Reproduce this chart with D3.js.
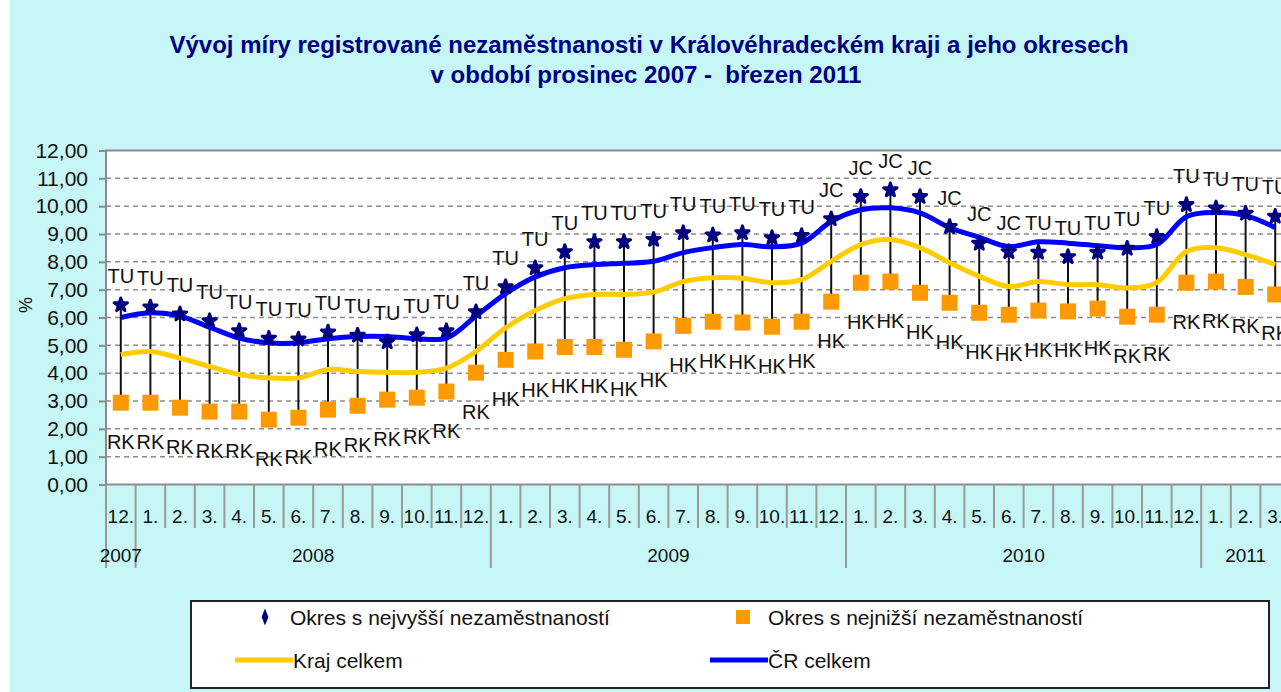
<!DOCTYPE html>
<html>
<head>
<meta charset="utf-8">
<script src="https://cdn.jsdelivr.net/npm/d3@7"></script>
<style>
  html, body { margin: 0; padding: 0; background: #fff; overflow: hidden; }
  text { font-family: 'Liberation Sans', Arial, sans-serif; }
</style>
</head>
<body>
<div id="chart"></div>
<script>
const monthLabels = ['12.',
  '1.', '2.', '3.', '4.', '5.', '6.', '7.', '8.', '9.', '10.', '11.', '12.',
  '1.', '2.', '3.', '4.', '5.', '6.', '7.', '8.', '9.', '10.', '11.', '12.',
  '1.', '2.', '3.', '4.', '5.', '6.', '7.', '8.', '9.', '10.', '11.', '12.',
  '1.', '2.', '3.']
const years = ['2007', '2008', '2009', '2010', '2011']
const monthsPerYear = [1, 12, 12, 12, 3]

// okres s nejvyssi nezamestnanosti
const highValues = [6.45,
  6.37, 6.12, 5.88, 5.52, 5.25, 5.22, 5.47, 5.36, 5.12, 5.37, 5.52, 6.2,
  7.1, 7.78, 8.36, 8.72, 8.72, 8.8, 9.04, 8.96, 9.04, 8.86, 8.94, 9.54,
  10.34, 10.58, 10.34, 9.26, 8.66, 8.36, 8.34, 8.18, 8.34, 8.48, 8.9, 10.05,
  9.93, 9.74, 9.63]
const highNames = ['TU',
  'TU', 'TU', 'TU', 'TU', 'TU', 'TU', 'TU', 'TU', 'TU', 'TU', 'TU', 'TU',
  'TU', 'TU', 'TU', 'TU', 'TU', 'TU', 'TU', 'TU', 'TU', 'TU', 'TU', 'JC',
  'JC', 'JC', 'JC', 'JC', 'JC', 'JC', 'TU', 'TU', 'TU', 'TU', 'TU', 'TU',
  'TU', 'TU', 'TU']

// okres s nejnizsi nezamestnanosti
const lowValues = [2.94,
  2.94, 2.76, 2.62, 2.62, 2.33, 2.4, 2.69, 2.83, 3.05, 3.12, 3.34, 4.02,
  4.48, 4.78, 4.94, 4.94, 4.84, 5.14, 5.7, 5.85, 5.82, 5.67, 5.85, 6.57,
  7.25, 7.29, 6.89, 6.53, 6.17, 6.1, 6.25, 6.22, 6.32, 6.03, 6.1, 7.25,
  7.29, 7.1, 6.83]
const lowNames = ['RK',
  'RK', 'RK', 'RK', 'RK', 'RK', 'RK', 'RK', 'RK', 'RK', 'RK', 'RK', 'RK',
  'HK', 'HK', 'HK', 'HK', 'HK', 'HK', 'HK', 'HK', 'HK', 'HK', 'HK', 'HK',
  'HK', 'HK', 'HK', 'HK', 'HK', 'HK', 'HK', 'HK', 'HK', 'RK', 'RK', 'RK',
  'RK', 'RK', 'RK']

// Kraj celkem
const regionValues = [4.67,
  4.78, 4.54, 4.24, 3.95, 3.83, 3.83, 4.13, 4.06, 4.03, 4.03, 4.18, 4.78,
  5.63, 6.25, 6.68, 6.83, 6.83, 6.91, 7.29, 7.43, 7.41, 7.25, 7.36, 8.02,
  8.62, 8.8, 8.51, 7.97, 7.48, 7.11, 7.29, 7.18, 7.18, 7.06, 7.26, 8.37,
  8.51, 8.26, 7.9]

// CR celkem
const czValues = [6.0,
  6.17, 6.05, 5.65, 5.26, 5.09, 5.09, 5.24, 5.32, 5.32, 5.24, 5.26, 6.05,
  6.86, 7.46, 7.79, 7.9, 7.95, 8.02, 8.33, 8.51, 8.62, 8.54, 8.67, 9.45,
  9.87, 9.94, 9.76, 9.23, 8.88, 8.55, 8.72, 8.67, 8.58, 8.51, 8.62, 9.62,
  9.77, 9.66, 9.23]

const yTicks = d3.range(0, 13)

const W = 1281
const H = 692
const plot = { left: 106, top: 150.5, bottom: 484.5, step: 29.6 }
const n = monthLabels.length

const svg = d3
  .select('#chart')
  .append('svg')
  .attr('width', W)
  .attr('height', H)

svg.append('rect')
  .attr('x', 10).attr('y', 0)
  .attr('width', W - 10).attr('height', H)
  .attr('fill', '#c6f6f6')

const xPositionScale = d3.scaleBand()
  .domain(d3.range(n))
  .range([plot.left, plot.left + n * plot.step])
const yPositionScale = d3.scaleLinear().domain([0, 12]).range([plot.bottom, plot.top])
const cx = i => xPositionScale(i) + xPositionScale.bandwidth() / 2

// title
const title = svg.append('g')
  .attr('fill', '#000080')
  .attr('font-weight', 'bold')
  .attr('font-size', 24)
  .attr('text-anchor', 'middle')
title.append('text').attr('x', 649).attr('y', 53)
  .text('Vývoj míry registrované nezaměstnanosti v Královéhradeckém kraji a jeho okresech')
title.append('text').attr('x', 646).attr('y', 83)
  .text('v období prosinec 2007 -  březen 2011')
  .attr('xml:space', 'preserve')

// plot area
svg.append('rect')
  .attr('x', plot.left)
  .attr('y', plot.top)
  .attr('width', n * plot.step)
  .attr('height', plot.bottom - plot.top)
  .attr('fill', '#fff')
  .attr('stroke', '#8c8c8c')
  .attr('stroke-width', 2)

svg.append('g')
  .selectAll('line')
  .data(yTicks.filter(d => d > 0 && d < 12))
  .enter()
  .append('line')
  .attr('x1', plot.left)
  .attr('x2', W)
  .attr('y1', d => yPositionScale(d))
  .attr('y2', d => yPositionScale(d))
  .attr('stroke', '#8c8c8c')
  .attr('stroke-width', 1.5)
  .attr('stroke-dasharray', '5,4')

// y axis
const yAxis = d3.axisLeft(yPositionScale)
  .tickValues(yTicks)
  .tickSize(7)
  .tickPadding(11)
  .tickFormat(d => d3.format('.2f')(d).replace('.', ','))
const yg = svg.append('g')
  .attr('class', 'axis y-axis')
  .attr('transform', `translate(${plot.left},0)`)
  .call(yAxis)
yg.select('.domain').remove()
yg.selectAll('line').attr('stroke', '#8c8c8c').attr('stroke-width', 2)
yg.selectAll('text').attr('font-size', 21).attr('fill', '#111')
  .attr('font-family', "'Liberation Sans', Arial, sans-serif")

svg.append('text')
  .attr('transform', 'translate(32,305) rotate(-90)')
  .attr('text-anchor', 'middle')
  .attr('font-size', 18)
  .attr('fill', '#111')
  .text('%')

// x axis: month labels
const xAxis = d3.axisBottom(xPositionScale)
  .tickSize(0)
  .tickPadding(25)
  .tickFormat(i => monthLabels[i])
const xg = svg.append('g')
  .attr('class', 'axis x-axis')
  .attr('transform', `translate(0,${plot.bottom})`)
  .call(xAxis)
xg.select('.domain').remove()
xg.selectAll('text').attr('font-size', 19).attr('fill', '#111')
  .attr('font-family', "'Liberation Sans', Arial, sans-serif")

const yearStarts = monthsPerYear.map((m, k) => d3.sum(monthsPerYear.slice(0, k)))
const boundaries = d3.range(n + 1)
svg.append('g')
  .selectAll('line')
  .data(boundaries)
  .enter()
  .append('line')
  .attr('x1', i => plot.left + i * plot.step)
  .attr('x2', i => plot.left + i * plot.step)
  .attr('y1', plot.bottom)
  .attr('y2', i => (yearStarts.includes(i) ? 568 : 528))
  .attr('stroke', '#999')
  .attr('stroke-width', 2)

svg.append('g')
  .selectAll('text')
  .data(years)
  .enter()
  .append('text')
  .attr('x', (d, k) => plot.left + (yearStarts[k] + monthsPerYear[k] / 2) * plot.step)
  .attr('y', 562)
  .attr('text-anchor', 'middle')
  .attr('font-size', 19)
  .attr('fill', '#111')
  .text(d => d)

// high-low lines
svg.append('g')
  .selectAll('line')
  .data(d3.range(n))
  .enter()
  .append('line')
  .attr('x1', cx).attr('x2', cx)
  .attr('y1', i => yPositionScale(highValues[i]))
  .attr('y2', i => yPositionScale(lowValues[i]))
  .attr('stroke', '#111')
  .attr('stroke-width', 2)

const line = values => d3.line()
  .x((d, i) => cx(i))
  .y(d => yPositionScale(d))
  .curve(d3.curveCatmullRom.alpha(0.5))(values)

svg.append('path')
  .attr('d', line(regionValues))
  .attr('fill', 'none')
  .attr('stroke', '#ffcc00')
  .attr('stroke-width', 5)

svg.append('path')
  .attr('d', line(czValues))
  .attr('fill', 'none')
  .attr('stroke', '#0000ff')
  .attr('stroke-width', 5)

// markers
svg.append('g')
  .selectAll('rect')
  .data(lowValues)
  .enter()
  .append('rect')
  .attr('x', (d, i) => cx(i) - 8)
  .attr('y', d => yPositionScale(d) - 8)
  .attr('width', 16)
  .attr('height', 16)
  .attr('fill', '#ff9900')

svg.append('g')
  .selectAll('path')
  .data(highValues)
  .enter()
  .append('path')
  .attr('d', d3.symbol(d3.symbolStar, 55)())
  .attr('transform', (d, i) => `translate(${cx(i)},${yPositionScale(d)})`)
  .attr('fill', '#000080')
  .attr('stroke', '#000080')
  .attr('stroke-width', 3)
  .attr('stroke-linejoin', 'round')

// data labels
svg.append('g')
  .selectAll('text')
  .data(highValues)
  .enter()
  .append('text')
  .attr('x', (d, i) => cx(i))
  .attr('y', d => yPositionScale(d) - 22)
  .attr('text-anchor', 'middle')
  .attr('font-size', 20)
  .attr('fill', '#111')
  .text((d, i) => highNames[i])

svg.append('g')
  .selectAll('text')
  .data(lowValues)
  .enter()
  .append('text')
  .attr('x', (d, i) => cx(i))
  .attr('y', d => yPositionScale(d) + 46)
  .attr('text-anchor', 'middle')
  .attr('font-size', 20)
  .attr('fill', '#111')
  .text((d, i) => lowNames[i])

// legend
const legend = svg.append('g')
legend.append('rect')
  .attr('x', 191).attr('y', 601)
  .attr('width', 1078).attr('height', 87)
  .attr('fill', '#fff')
  .attr('stroke', '#222')
  .attr('stroke-width', 2)

legend.append('path')
  .attr('d', d3.symbol(d3.symbolDiamond, 70)())
  .attr('transform', 'translate(265,617) scale(0.75,1.1)')
  .attr('fill', '#000080')
legend.append('rect')
  .attr('x', 736).attr('y', 610).attr('width', 14).attr('height', 14)
  .attr('fill', '#ff9900')
legend.append('line')
  .attr('x1', 235).attr('x2', 293).attr('y1', 660).attr('y2', 660)
  .attr('stroke', '#ffcc00').attr('stroke-width', 5)
legend.append('line')
  .attr('x1', 710).attr('x2', 768).attr('y1', 660).attr('y2', 660)
  .attr('stroke', '#0000ff').attr('stroke-width', 5)

const legendText = [
  ['Okres s nejvyšší nezaměstnaností', 290, 625],
  ['Okres s nejnižší nezaměstnaností', 768, 625],
  ['Kraj celkem', 293, 668],
  ['ČR celkem', 768, 668]
]
legend.selectAll('text')
  .data(legendText)
  .enter()
  .append('text')
  .attr('x', d => d[1])
  .attr('y', d => d[2])
  .attr('font-size', 21)
  .attr('fill', '#111')
  .text(d => d[0])
</script>
</body>
</html>
